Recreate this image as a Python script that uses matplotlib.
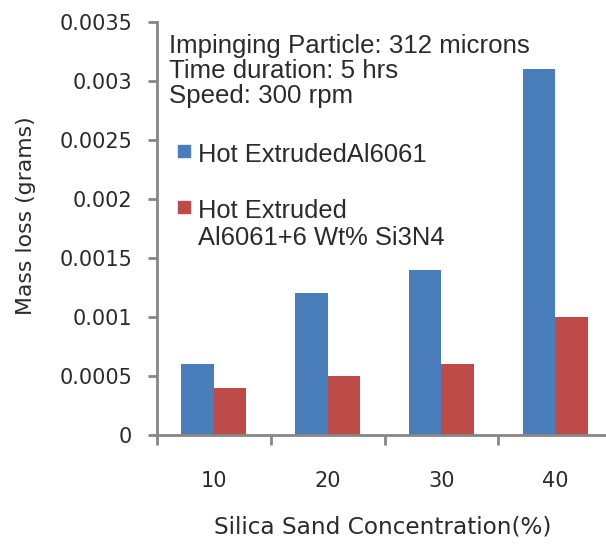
import numpy as np
import matplotlib.pyplot as plt
from matplotlib.patches import Rectangle

concentration = ['10', '20', '30', '40']
al6061 = [0.0006, 0.0012, 0.0014, 0.0031]
al6061_si3n4 = [0.0004, 0.0005, 0.0006, 0.0010]
series_names = ['Hot ExtrudedAl6061', 'Hot Extruded\nAl6061+6 Wt% Si3N4']
notes = ['Impinging Particle: 312 microns', 'Time duration: 5 hrs', 'Speed: 300 rpm']
y_ticks = [0, 0.0005, 0.001, 0.0015, 0.002, 0.0025, 0.003, 0.0035]
y_labels = ['0', '0.0005', '0.001', '0.0015', '0.002', '0.0025', '0.003', '0.0035']

BLUE = '#4a7ebb'
RED = '#be4b48'
AXIS = '#868686'
TEXT = '#2b2b2b'
W, H = 606, 545


def fx(px):
    return px / W


def fy(py):
    return 1 - py / H


fig = plt.figure(figsize=(W / 100, H / 100), dpi=100)
ax = fig.add_axes([fx(157), fy(435), 455 / W, 413 / H])

x = np.arange(len(concentration))
w = 0.286
ax.bar(x - w / 2, al6061, w, color=BLUE)
ax.bar(x + w / 2, al6061_si3n4, w, color=RED)

ax.set_xlim(-0.5, 3.5)
ax.set_ylim(0, 0.0035)
ax.set_yticks(y_ticks)
ax.set_yticklabels(y_labels)
ax.set_xticks(x)
ax.set_xticklabels(concentration)
ax.set_xticks(np.arange(-0.5, 3.6, 1), minor=True)

for side in ['top', 'right']:
    ax.spines[side].set_visible(False)
for side in ['left', 'bottom']:
    ax.spines[side].set_color(AXIS)
    ax.spines[side].set_linewidth(2)

ax.tick_params(axis='y', length=6.5, width=2, color=AXIS, labelsize=15,
               labelcolor=TEXT, pad=11.5)
ax.tick_params(axis='x', which='major', length=0, labelsize=15,
               labelcolor=TEXT, pad=26)
ax.tick_params(axis='x', which='minor', length=7, width=2, color=AXIS)

# axis titles
fig.text(fx(383), fy(534), 'Silica Sand Concentration(%)', fontsize=16.7,
         color=TEXT, ha='center', va='baseline')
fig.text(fx(26), fy(216), 'Mass loss (grams)', rotation=90,
         fontsize=15.8, color=TEXT, ha='center', va='center')

# test conditions
for i, line in enumerate(notes):
    fig.text(fx(169), fy(53 + 25 * i), line, family='Liberation Sans',
             fontsize=18.6, color=TEXT, ha='left', va='baseline')

# legend
for name, color, base in zip(series_names, [BLUE, RED], [162, 218]):
    fig.patches.append(Rectangle((fx(178), fy(base - 5)), 12 / W, 12 / H,
                                 transform=fig.transFigure, color=color))
    for j, part in enumerate(name.split('\n')):
        fig.text(fx(198), fy(base + 27 * j), part, family='Liberation Sans',
                 fontsize=18.4, color=TEXT, ha='left', va='baseline')

fig.savefig('out.png', dpi=100)
